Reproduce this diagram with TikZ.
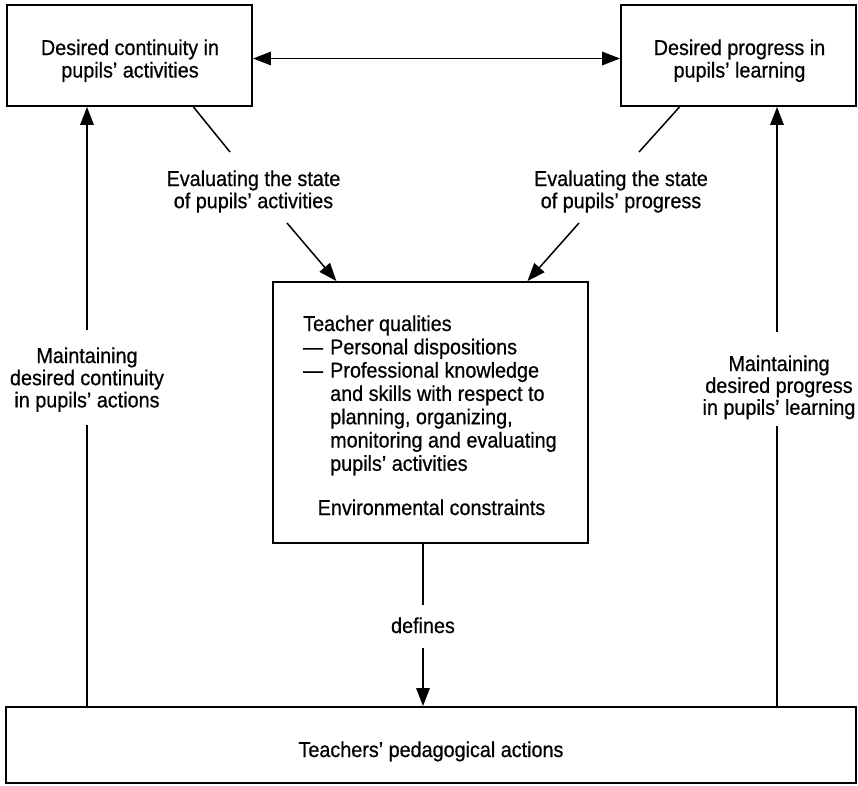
\documentclass[tikz,border=0pt]{standalone}
\usepackage{fontspec}
\setmainfont{Liberation Sans}[FakeStretch=0.92,FakeBold=0.6]
\usetikzlibrary{arrows.meta,calc}
% stacked lines of text: optional column type, baselineskip, rows
\newcommand\textrows[3][c]{{\fontsize{21.5}{#2}\selectfont\begin{tabular}[t]{@{}#1@{}}#3\end{tabular}}}
\newcommand\dashitem{\makebox[27pt][l]{—}}
\begin{document}
\begin{tikzpicture}[x=1pt,y=-1pt,
  frame/.style={draw, line width=1.9pt, inner sep=0pt},
  caption/.style={inner sep=0pt, font=\fontsize{21.5}{23}\selectfont},
  link/.style={line width=1.5pt},
  arr/.style={link, -{Triangle[length=18pt,width=13.5pt]}},
  twoarr/.style={link, {Triangle[length=18pt,width=13.5pt]}-{Triangle[length=18pt,width=13.5pt]}}]
\useasboundingbox (0,0) rectangle (858,785);

% boxes
\node[frame, minimum width=245pt, minimum height=101pt] (tl) at (129.5,55.5) {};
\node[frame, minimum width=235pt, minimum height=101pt] (tr) at (738.5,55.5) {};
\node[frame, minimum width=315pt, minimum height=261pt] (cb) at (430.5,412.5) {};
\node[frame, minimum width=850pt, minimum height=76pt] (bb) at (431,745) {};

% box texts
\node[caption, anchor=base] (tlt) at (130,55) {\textrows{22.5}{Desired continuity in\\pupils' activities}};
\node[caption, anchor=base] (trt) at (739.5,55) {\textrows{22.5}{Desired progress in\\pupils' learning}};
\node[caption, anchor=base west] (tq) at (303,331) {\textrows[l]{23.3}{Teacher qualities\\
  \dashitem Personal dispositions\\
  \dashitem Professional knowledge\\
  \hspace*{27pt}and skills with respect to\\
  \hspace*{27pt}planning, organizing,\\
  \hspace*{27pt}monitoring and evaluating\\
  \hspace*{27pt}pupils' activities}};
\node[caption, anchor=base] (env) at (431.5,515) {Environmental constraints};
\node[caption, anchor=base] (pa) at (431,757) {Teachers' pedagogical actions};

% connector labels
\node[caption, anchor=base] (evl) at (253.5,186) {\textrows{22}{Evaluating the state\\of pupils' activities}};
\node[caption, anchor=base] (evr) at (621,186) {\textrows{22}{Evaluating the state\\of pupils' progress}};
\node[caption, anchor=base] (mnl) at (87,363) {\textrows{22}{Maintaining\\desired continuity\\in pupils' actions}};
\node[caption, anchor=base] (mnr) at (779,371) {\textrows{21}{Maintaining\\desired progress\\in pupils' learning}};
\node[caption, anchor=base] (df) at (423,633) {defines};

% where the connectors break around their labels
\coordinate (e1a) at (230,152);
\coordinate (e1b) at (287,223);
\coordinate (e2a) at (639,152);
\coordinate (e2b) at (579,223);
\coordinate (m1a) at (87,330);
\coordinate (m1b) at (87,425);
\coordinate (m2a) at (777,332);
\coordinate (m2b) at (777,426);
\coordinate (d1) at (423,605);
\coordinate (d2) at (423,648);

% connectors
\draw[twoarr] ([yshift=-3pt]tl.east) -- ([yshift=-3pt]tr.west);
\draw[link] ($(tl.south west)!0.759!(tl.south east)$) -- (e1a);
\draw[arr] (e1b) -- ($(cb.north west)!0.203!(cb.north east)$);
\draw[link] ($(tr.south west)!0.251!(tr.south east)$) -- (e2a);
\draw[arr] (e2b) -- ($(cb.north west)!0.806!(cb.north east)$);
\draw[arr] (m1a) -- (m1a |- tl.south);
\draw[link] (m1b |- bb.north) -- (m1b);
\draw[arr] (m2a) -- (m2a |- tr.south);
\draw[link] (m2b |- bb.north) -- (m2b);
\draw[link] (d1 |- cb.south) -- (d1);
\draw[arr] (d2) -- (d2 |- bb.north);
\end{tikzpicture}
\end{document}
